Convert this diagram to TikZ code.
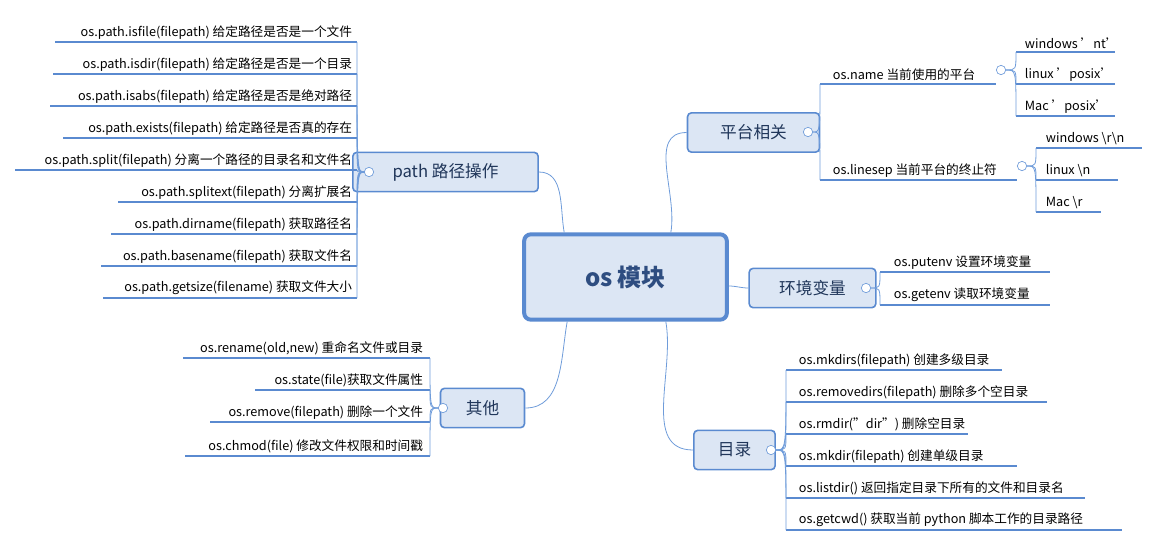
\documentclass[tikz,border=0pt]{standalone}
\usepackage{fontspec}
\setmainfont{Noto Sans CJK SC}
\usetikzlibrary{positioning, calc}
\definecolor{boxfill}{HTML}{DCE6F4}
\definecolor{boxline}{HTML}{5A8AD0}
\definecolor{linkc}{HTML}{6F9CDA}
\definecolor{titlec}{HTML}{2E4D80}
\tikzset{
    topic/.style={draw=boxline, fill=boxfill, rounded corners=3, line width=1.2pt,
        font=\fontsize{12.5}{14}\selectfont, text=titlec!70!black, minimum height=29.5, inner xsep=9},
    leaf/.style={font=\fontsize{9.5}{11}\selectfont, inner sep=2, anchor=south west},
    uline/.style={draw=boxline, line width=1.1pt},
    link/.style={draw=linkc, line width=0.6pt},
    fold/.style={circle, draw=linkc, fill=white, inner sep=0, minimum size=7, line width=0.5pt},
}
\begin{document}
\begin{tikzpicture}[x=0.75pt, y=-0.75pt]
    \useasboundingbox (0,0) rectangle (1160,547);

    % centre and topics
    \node[topic, line width=3pt, rounded corners=5, minimum width=152, minimum height=64,
        font=\fontsize{18}{20}\selectfont\bfseries, text=titlec] (os) at (625.5,277) {os 模块};
    \node[topic, minimum width=99] (plat) at (753.5,132.5) {平台相关};
    \node[topic, minimum width=95] (env) at (812.5,288) {环境变量};
    \node[topic, minimum width=61] (dir) at (734.5,450) {目录};
    \node[topic, minimum width=63] (misc) at (482.5,408) {其他};
    \node[topic, minimum width=139] (path) at (445.5,172) {path 路径操作};

    \draw[link] (os.north east) ++(-58,0) to[out=80, in=180] (plat.west);
    \draw[link] (os.east) ++(0,9) to[out=0, in=180] (env.west);
    \draw[link] (os.south east) ++(-63,0) to[out=-80, in=180] (dir.west);
    \draw[link] (os.south west) ++(45,0) to[out=-100, in=0] (misc.east);
    \draw[link] (os.north west) ++(42,0) to[out=100, in=0] (path.east);

    % fold marks
    \node[fold] (fplat) at (808,132) {};
    \node[fold] (fenv) at (866,288) {};
    \node[fold] (fdir) at (771,450) {};
    \node[fold] (fmisc) at (443,408) {};
    \node[fold] (fpath) at (369,172) {};
    \node[fold] (fname) at (1001,70) {};
    \node[fold] (fsep) at (1022,166) {};

    % left side: path operations
    \foreach \y/\xa/\t [count=\i] in {
        42/55/{os.path.isfile(filepath) 给定路径是否是一个文件},
        74/53/{os.path.isdir(filepath) 给定路径是否是一个目录},
        106/50/{os.path.isabs(filepath) 给定路径是否是绝对路径},
        138/63/{os.path.exists(filepath) 给定路径是否真的存在},
        170/15/{os.path.split(filepath) 分离一个路径的目录名和文件名},
        202/118/{os.path.splitext(filepath) 分离扩展名},
        234/111/{os.path.dirname(filepath) 获取路径名},
        266/101/{os.path.basename(filepath) 获取文件名},
        298/103/{os.path.getsize(filename) 获取文件大小}}{
        \coordinate (p\i) at (357,\y);
        \node[leaf, anchor=south east] (pt\i) at (355,\y) {\t};
        \draw[uline] (\xa,\y) -- (p\i);
        \draw[link] (fpath) .. controls (fpath -| p\i) and (fpath -| p\i) .. (p\i);
    }

    % left side: misc
    \foreach \y/\xa/\t [count=\i] in {
        358/183/{os.rename(old,new) 重命名文件或目录},
        390/255/{os.state(file)获取文件属性},
        422/210/{os.remove(filepath) 删除一个文件},
        456/185/{os.chmod(file) 修改文件权限和时间戳}}{
        \coordinate (m\i) at (430,\y);
        \node[leaf, anchor=south east] (mt\i) at (426,\y) {\t};
        \draw[uline] (\xa,\y) -- (m\i);
        \draw[link] (fmisc) .. controls (fmisc -| m\i) and (fmisc -| m\i) .. (m\i);
    }

    % right side: platform
    \coordinate (n1) at (820,84);
    \coordinate (n2) at (820,180);
    \node[leaf] (name) at (830,84) {os.name 当前使用的平台};
    \node[leaf] (sep) at (830,180) {os.linesep 当前平台的终止符};
    \draw[uline] (n1) -- (996,84);
    \draw[uline] (n2) -- (1017,180);
    \foreach \i in {1,2}
        \draw[link] (fplat) .. controls (fplat -| n\i) and (fplat -| n\i) .. (n\i);

    \foreach \y/\xb/\t [count=\i] in {
        52/1115/{windows 'nt'},
        84/1115/{linux 'posix'},
        116/1115/{Mac 'posix'}}{
        \coordinate (a\i) at (1016,\y);
        \node[leaf] (at\i) at (1022,\y) {\t};
        \draw[uline] (a\i) -- (\xb,\y);
        \draw[link] (fname) .. controls (fname -| a\i) and (fname -| a\i) .. (a\i);
    }
    \foreach \y/\xb/\t [count=\i] in {
        148/1142/{windows \textbackslash r\textbackslash n},
        180/1118/{linux \textbackslash n},
        212/1101/{Mac \textbackslash r}}{
        \coordinate (b\i) at (1036,\y);
        \node[leaf] (bt\i) at (1043,\y) {\t};
        \draw[uline] (b\i) -- (\xb,\y);
        \draw[link] (fsep) .. controls (fsep -| b\i) and (fsep -| b\i) .. (b\i);
    }

    % right side: environment
    \foreach \y/\xb/\t [count=\i] in {
        272/1050/{os.putenv 设置环境变量},
        305/1050/{os.getenv 读取环境变量}}{
        \coordinate (e\i) at (880,\y);
        \node[leaf] (et\i) at (891,\y) {\t};
        \draw[uline] (e\i) -- (\xb,\y);
        \draw[link] (fenv) .. controls (fenv -| e\i) and (fenv -| e\i) .. (e\i);
    }

    % right side: directories
    \foreach \y/\xb/\t [count=\i] in {
        370/1002/{os.mkdirs(filepath) 创建多级目录},
        402/1047/{os.removedirs(filepath) 删除多个空目录},
        434/968/{os.rmdir("dir") 删除空目录},
        466/1017/{os.mkdir(filepath) 创建单级目录},
        498/1085/{os.listdir() 返回指定目录下所有的文件和目录名},
        530/1122/{os.getcwd() 获取当前 python 脚本工作的目录路径}}{
        \coordinate (d\i) at (786,\y);
        \node[leaf] (dt\i) at (796,\y) {\t};
        \draw[uline] (d\i) -- (\xb,\y);
        \draw[link] (fdir) .. controls (fdir -| d\i) and (fdir -| d\i) .. (d\i);
    }
\end{tikzpicture}
\end{document}
